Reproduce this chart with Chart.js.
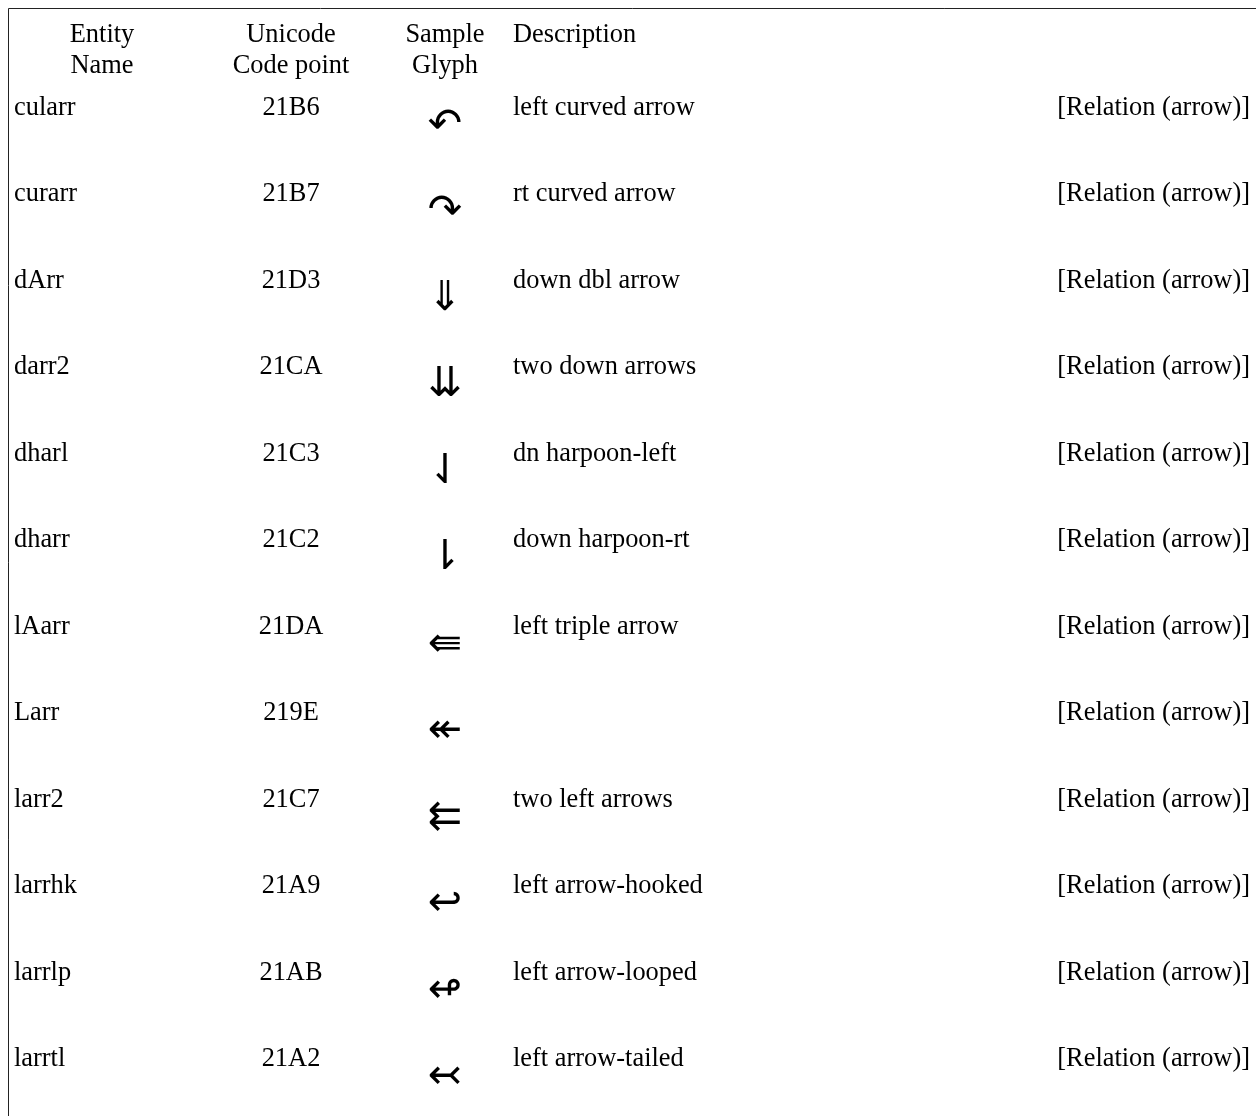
<!DOCTYPE html>
<html>
<head>
<meta charset="utf-8">
<script src="https://cdn.jsdelivr.net/npm/chart.js@4.4.1/dist/chart.umd.min.js"></script>
<style>
  html, body { margin: 0; padding: 0; background: #fff; }
  canvas { display: block; }
</style>
</head>
<body>
<canvas id="entityTable" width="1256" height="1116"></canvas>
<script>
// header cells, one entry per text line
const headerName = ['Entity', 'Name'];
const headerCode = ['Unicode', 'Code point'];
const headerGlyph = ['Sample', 'Glyph'];
const headerDesc = ['Description'];

// table rows
const entityNames = ['cularr', 'curarr', 'dArr', 'darr2', 'dharl', 'dharr',
  'lAarr', 'Larr', 'larr2', 'larrhk', 'larrlp', 'larrtl'];
const codePoints = ['21B6', '21B7', '21D3', '21CA', '21C3', '21C2',
  '21DA', '219E', '21C7', '21A9', '21AB', '21A2'];
const glyphs = ['\u21B6', '\u21B7', '\u21D3', '\u21CA', '\u21C3', '\u21C2',
  '\u21DA', '\u219E', '\u21C7', '\u21A9', '\u21AB', '\u21A2'];
const descriptions = ['left curved arrow', 'rt curved arrow', 'down dbl arrow',
  'two down arrows', 'dn harpoon-left', 'down harpoon-rt', 'left triple arrow', '',
  'two left arrows', 'left arrow-hooked', 'left arrow-looped', 'left arrow-tailed'];
const categories = entityNames.map(() => '[Relation (arrow)]');

// layout: column anchors on the x scale, header lines on the row scale
const col = { name: 14, nameHead: 102, code: 291, glyph: 445, desc: 513, cat: 1250 };
const headRows = [-0.848, -0.482];
const textFont = '26.4px "Liberation Serif", "Times New Roman", serif';
const glyphFont = '41px "DejaVu Sans", sans-serif';
const glyphDrop = 22;

const tableCells = {
  id: 'tableCells',
  afterDraw(chart) {
    const { ctx, scales: { x, y } } = chart;
    ctx.save();

    // outer table frame (top and left edges are on screen)
    ctx.strokeStyle = '#222';
    ctx.lineWidth = 1;
    ctx.beginPath();
    ctx.moveTo(8.5, chart.height);
    ctx.lineTo(8.5, 8.5);
    ctx.lineTo(chart.width, 8.5);
    ctx.stroke();

    ctx.fillStyle = '#000';
    ctx.textBaseline = 'alphabetic';
    ctx.font = textFont;

    const put = (txt, cx, row, align) => {
      ctx.textAlign = align;
      ctx.fillText(txt, x.getPixelForValue(cx), y.getPixelForValue(row));
    };

    headerName.forEach((t, i) => put(t, col.nameHead, headRows[i], 'center'));
    headerCode.forEach((t, i) => put(t, col.code, headRows[i], 'center'));
    headerGlyph.forEach((t, i) => put(t, col.glyph, headRows[i], 'center'));
    headerDesc.forEach((t, i) => put(t, col.desc, headRows[i], 'left'));

    entityNames.forEach((name, i) => {
      put(name, col.name, i, 'left');
      put(codePoints[i], col.code, i, 'center');
      put(descriptions[i], col.desc, i, 'left');
      put(categories[i], col.cat, i, 'right');
    });

    ctx.font = glyphFont;
    ctx.textAlign = 'center';
    glyphs.forEach((g, i) => {
      ctx.fillText(g, x.getPixelForValue(col.glyph), y.getPixelForValue(i) + glyphDrop);
    });
    ctx.restore();
  }
};

// row i sits on baseline 115 + 86.45 * i
const rowPitch = 86.45;
const yMin = -115 / rowPitch;

new Chart(document.getElementById('entityTable'), {
  type: 'scatter',
  data: { datasets: [] },
  options: {
    responsive: false,
    animation: false,
    events: [],
    layout: { padding: 0 },
    plugins: { legend: { display: false }, tooltip: { enabled: false } },
    scales: {
      x: { type: 'linear', display: false, min: 0, max: 1256 },
      y: { type: 'linear', display: false, reverse: true, min: yMin, max: yMin + 1116 / rowPitch }
    }
  },
  plugins: [tableCells]
});
</script>
</body>
</html>
